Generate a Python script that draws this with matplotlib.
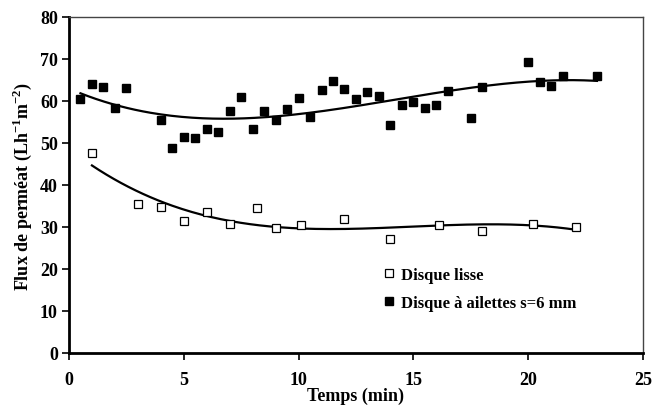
import numpy as np
import matplotlib
matplotlib.use('Agg')
import matplotlib.pyplot as plt

plt.rcParams['font.family'] = ['Liberation Serif', 'DejaVu Serif']
plt.rcParams['font.weight'] = 'bold'
plt.rcParams['mathtext.fontset'] = 'custom'
plt.rcParams['mathtext.rm'] = 'Liberation Serif:bold'
plt.rcParams['mathtext.bf'] = 'Liberation Serif:bold'

# disque lisse
t_lisse = [1.0, 3.0, 4.0, 5.0, 6.0, 7.0, 8.2, 9.0, 10.1, 12.0, 14.0, 16.1, 18.0, 20.2, 22.1]
j_lisse = [47.6, 35.5, 34.8, 31.4, 33.6, 30.7, 34.5, 29.8, 30.5, 31.9, 27.1, 30.5, 29.0, 30.7, 30.0]

# disque a ailettes s=6 mm
t_ail = [0.5, 1.0, 1.5, 2.0, 2.5, 4.0, 4.5, 5.0, 5.5, 6.0, 6.5, 7.0, 7.5, 8.0, 8.5,
         9.0, 9.5, 10.0, 10.5, 11.0, 11.5, 12.0, 12.5, 13.0, 13.5, 14.0, 14.5, 15.0,
         15.5, 16.0, 16.5, 17.5, 18.0, 20.0, 20.5, 21.0, 21.5, 23.0]
j_ail = [60.5, 64.0, 63.3, 58.3, 63.1, 55.5, 48.8, 51.4, 51.2, 53.3, 52.6, 57.6, 61.0,
         53.3, 57.6, 55.5, 58.1, 60.7, 56.2, 62.6, 64.8, 62.9, 60.5, 62.1, 61.2, 54.3,
         59.0, 59.8, 58.3, 59.0, 62.4, 56.0, 63.3, 69.3, 64.5, 63.6, 65.9, 66.0]

fig = plt.figure(figsize=(6.54, 4.10), dpi=100)
ax = fig.add_axes([0.1055, 0.1366, 0.8775, 0.8195])

# polynomial trendlines (order 3)
for t, j in [(t_lisse, j_lisse), (t_ail, j_ail)]:
    c = np.polyfit(t, j, 3)
    tt = np.linspace(min(t), max(t), 200)
    ax.plot(tt, np.polyval(c, tt), color='black', lw=1.6, zorder=2)

ax.plot(t_lisse, j_lisse, 's', ms=5.5, mfc='white', mec='black', mew=0.9,
        ls='none', label='Disque lisse', zorder=3)
ax.plot(t_ail, j_ail, 's', ms=6, mfc='black', mec='black',
        ls='none', label='Disque à ailettes s=6 mm', zorder=3)

ax.set_xlim(0, 25)
ax.set_ylim(0, 80)
ax.set_xticks(np.arange(0, 26, 5))
ax.set_yticks(np.arange(0, 81, 10))
ax.tick_params(direction='out', length=5, width=1.2, labelsize=13, pad=8)
ax.tick_params(axis='y', pad=3)

ax.spines['left'].set_linewidth(2)
ax.spines['bottom'].set_linewidth(2)
ax.spines['top'].set_linewidth(1)
ax.spines['right'].set_linewidth(1)
ax.spines['top'].set_color('#444444')
ax.spines['right'].set_color('#444444')

ax.set_xlabel('Temps (min)', fontsize=13, fontweight='bold', labelpad=-1)
ax.set_ylabel(r'Flux de perméat (Lh$^{\mathbf{-1}}$m$^{\mathbf{-2}}$)',
              fontsize=13, fontweight='bold', labelpad=4)

ax.legend(loc='upper left', bbox_to_anchor=(0.52, 0.3), frameon=False,
          fontsize=12, handlelength=0.8, handletextpad=0.3, labelspacing=0.7)

plt.savefig('out.png', dpi=100)
